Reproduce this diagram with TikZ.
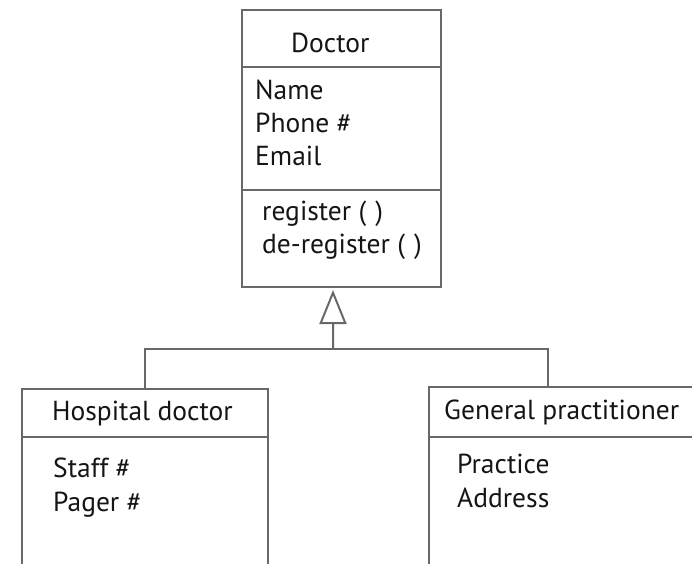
\documentclass[tikz,border=0pt]{standalone}
\usepackage{fontspec}
\setmainfont{PT Sans}
\usetikzlibrary{arrows.meta,calc}
\definecolor{linegray}{HTML}{686868}
\definecolor{textgray}{HTML}{151515}
\begin{document}
\begin{tikzpicture}[x=1bp,y=-1bp,
  box/.style={draw=linegray, line width=2bp, inner sep=0pt, outer sep=0pt, anchor=north west},
  conn/.style={draw=linegray, line width=2bp},
  txt/.style={anchor=base west, inner sep=0pt, font=\fontsize{27.5bp}{30bp}\selectfont, text=textgray}]
\useasboundingbox (0,0) rectangle (692,564);
\clip (0,0) rectangle (692,564);
% Doctor class
\node[box, minimum width=199bp, minimum height=277bp] (doc) at (242,10) {};
\draw[conn] (doc.west |- 0,67) -- (doc.east |- 0,67);
\draw[conn] (doc.west |- 0,190) -- (doc.east |- 0,190);
\node[txt] (docname) at (291,53) {Doctor};
\node[txt] (a1) at (255,100) {Name};
\node[txt] (a2) at (255,133) {Phone \#};
\node[txt] (a3) at (255,166) {Email};
\node[txt] (m1) at (262,220) {register (\,\,)};
\node[txt] (m2) at (262,253) {de-register (\,\,)};
% Hospital doctor
\node[box, minimum width=246bp, minimum height=220bp] (hosp) at (22,389) {};
\draw[conn] (hosp.west |- 0,437) -- (hosp.east |- 0,437);
\node[txt] (hname) at (52,420) {Hospital doctor};
\node[txt] (h1) at (53,477) {Staff \#};
\node[txt] (h2) at (53,511) {Pager \#};
% General practitioner
\node[box, minimum width=300bp, minimum height=220bp] (gp) at (429,387) {};
\draw[conn] (gp.west |- 0,437) -- (gp.east |- 0,437);
\node[txt] (gname) at (444,419) {General practitioner};
\node[txt] (g1) at (457,473) {Practice};
\node[txt] (g2) at (457,507) {Address};
% Generalisation connector
\coordinate (apex) at ($(doc.south)+(-8.5,3)$);
\coordinate (join) at (333,349);
\coordinate (gpt) at ($(gp.north west)+(119,0)$);
\draw[conn] (hosp.north) |- (join) -| (gpt);
\draw[conn, -{Triangle[open, length=34bp, width=27bp, line width=2bp]}] (join) -- (apex);
\end{tikzpicture}
\end{document}
